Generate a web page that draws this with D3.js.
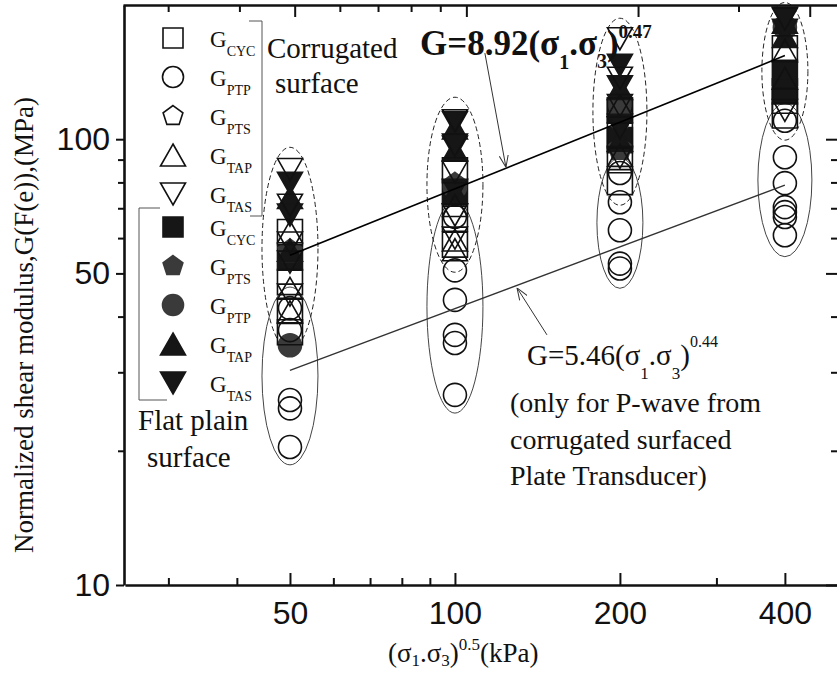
<!DOCTYPE html>
<html>
<head>
<meta charset="utf-8">
<script src="https://cdn.jsdelivr.net/npm/d3@7"></script>
<style>
  body { margin: 0; background: #fff; }
  svg { display: block; }
  .serif { font-family: "Liberation Serif", "Times New Roman", serif; fill: #111; }
  .tick text { font-family: "Liberation Sans", Arial, sans-serif; font-size: 32px; fill: #111; }
</style>
</head>
<body>
<svg id="chart" width="837" height="676"></svg>
<script>
// ---------- data ----------
const levels = [50, 100, 200, 400];          // (σ1.σ3)^0.5, kPa
const xMinor = [30, 40, 60, 70, 80, 90, 300];
const yMajor = [10, 50, 100];
const yMinor = [20, 30, 40, 60, 70, 80, 90];

// Corrugated-surface transducers (open symbols), one list per level
const corrCYC = [[61.9, 47.8, 41.2, 36.9], [85.2, 66.3, 58.0], [116, 102, 89.7, 80.1], [160, 122, 113]];
const corrPTP = [[41.8, 37.3, 26.0, 24.9, 20.4], [67, 50.8, 43.6, 36.4, 34.9, 26.7], [84, 72.2, 62.5, 52.6, 51.3], [110, 91.1, 79.7, 70.4, 68.6, 66.9, 60.9]];
const corrPTS = [[], [], [], []];
const corrTAP = [[62, 46.3, 41], [71, 59.4, 56.5], [119, 92], [158, 137]];
const corrTAS = [[85.5, 71.1, 58.5, 53, 44.7], [110, 97, 84.4, 67.6, 60], [168, 137, 119, 106, 91], [186, 116]];

// Flat plain-surface transducers (filled symbols)
const flatCYC = [[54.2], [76], [116, 99.5], [141, 128]];
const flatPTS = [[56], [79], [112, 95], [180]];
const flatPTP = [[34.5], [78], [120], [178]];
const flatTAP = [[74, 56.4], [106, 94.5, 76], [130, 99.5], [183, 170]];
const flatTAS = [[79.6, 67.6], [109, 96, 76.8], [146.5, 131, 107.5], [187, 175.6]];

// Grouping ellipses: [upper G, lower G] at each level
const dashedEllipse = [[95.9, 33.7], [124.2, 50.3], [186.8, 71.1], [202.6, 99.5]];
const solidEllipse  = [[46.6, 18.6], [73.0, 24.3], [91.1, 46.3], [120.4, 54.5]];

// Fitted trends (end points) and pointer arrows [tail, head]
const fitAll = [[50, 54.9], [400, 154]];
const fitPTP = [[50, 30.3], [400, 78.9]];
const arrowAll = [[113.4, 156], [123.9, 86.5]];
const arrowPTP = [[147.2, 36.4], [129.8, 46.4]];

// ---------- layout ----------
const svg = d3.select("#chart");
const x = d3.scaleLog().domain([25, 500]).range([125, 838]);
const xTop = d3.scaleLog().domain([25, 500]).range([123, 865]);
const y = d3.scaleLog().domain([10, 200]).range([585, 5]);

const INK = "#111";

// symbol outlines centred on (0,0)
function shape(kind, s) {
  const h = s / 2;
  if (kind === "square") return `M${-h},${-h}H${h}V${h}H${-h}Z`;
  if (kind === "circle") return `M${h},0A${h},${h} 0 1 1 ${-h},0A${h},${h} 0 1 1 ${h},0Z`;
  if (kind === "up")   { const t = s * 0.44; return `M0,${-t}L${h},${t}L${-h},${t}Z`; }
  if (kind === "down") { const t = s * 0.44; return `M0,${t}L${h},${-t}L${-h},${-t}Z`; }
  if (kind === "pentagon") {
    const r = s * 0.52;
    return d3.range(5).map((i, k) => {
      const a = -Math.PI / 2 + i * 2 * Math.PI / 5;
      return (k ? "L" : "M") + (r * Math.cos(a)).toFixed(2) + "," + (r * Math.sin(a)).toFixed(2);
    }).join("") + "Z";
  }
}

const series = [
  { sub: "CYC", kind: "square",   filled: true,  tone: "#161616", vals: flatCYC, group: "flat" },
  { sub: "PTS", kind: "pentagon", filled: true,  tone: "#3a3a3a", vals: flatPTS, group: "flat" },
  { sub: "PTP", kind: "circle",   filled: true,  tone: "#3a3a3a", vals: flatPTP, group: "flat" },
  { sub: "TAP", kind: "up",       filled: true,  tone: "#161616", vals: flatTAP, group: "flat" },
  { sub: "TAS", kind: "down",     filled: true,  tone: "#161616", vals: flatTAS, group: "flat" },
  { sub: "CYC", kind: "square",   filled: false, tone: INK, vals: corrCYC, group: "corr" },
  { sub: "PTP", kind: "circle",   filled: false, tone: INK, vals: corrPTP, group: "corr" },
  { sub: "PTS", kind: "pentagon", filled: false, tone: INK, vals: corrPTS, group: "corr" },
  { sub: "TAP", kind: "up",       filled: false, tone: INK, vals: corrTAP, group: "corr" },
  { sub: "TAS", kind: "down",     filled: false, tone: INK, vals: corrTAS, group: "corr" }
];
const plotSize = { square: 25, circle: 23, pentagon: 24, up: 25, down: 25 };
const legendSize = { square: 20, circle: 21, pentagon: 20, up: 25, down: 25 };

// ---------- ellipses ----------
const dashedRx = [28, 28, 27, 23];
const solidRx = [28, 28, 23, 27];
function drawEllipses(spec, rx, dash, colour) {
  svg.append("g").selectAll("ellipse").data(spec).join("ellipse")
    .attr("cx", (d, i) => x(levels[i]))
    .attr("cy", d => (y(d[0]) + y(d[1])) / 2)
    .attr("rx", (d, i) => rx[i])
    .attr("ry", d => (y(d[1]) - y(d[0])) / 2)
    .attr("fill", "none")
    .attr("stroke", colour)
    .attr("stroke-width", 1)
    .attr("stroke-dasharray", dash);
}
drawEllipses(solidEllipse, solidRx, null, "#444");
drawEllipses(dashedEllipse, dashedRx, "5,3", "#222");

// ---------- data symbols ----------
series.forEach(s => {
  const pts = s.vals.flatMap((list, i) => list.map(v => ({ x: levels[i], y: v })));
  svg.append("g").selectAll("path").data(pts).join("path")
    .attr("d", shape(s.kind, plotSize[s.kind]))
    .attr("transform", d => `translate(${x(d.x)},${y(d.y)})`)
    .attr("fill", s.filled ? s.tone : "none")
    .attr("stroke", s.tone)
    .attr("stroke-width", 1.6);
});

// ---------- trend lines and arrows ----------
const line = d3.line().x(d => x(d[0])).y(d => y(d[1]));
svg.append("path").attr("d", line(fitAll)).attr("stroke", "#000").attr("stroke-width", 1.6).attr("fill", "none");
svg.append("path").attr("d", line(fitPTP)).attr("stroke", "#333").attr("stroke-width", 1.4).attr("fill", "none");

svg.append("defs").append("marker")
  .attr("id", "head").attr("viewBox", "0 0 12 10").attr("refX", 12).attr("refY", 5)
  .attr("markerWidth", 12).attr("markerHeight", 10).attr("markerUnits", "userSpaceOnUse")
  .attr("orient", "auto")
  .append("path").attr("d", "M0,0.5L12,5L0,9.5").attr("fill", "none").attr("stroke", "#333").attr("stroke-width", 1);
[arrowAll, arrowPTP].forEach(a => {
  svg.append("path").attr("d", line(a)).attr("stroke", "#333").attr("stroke-width", 1)
    .attr("fill", "none").attr("marker-end", "url(#head)");
});

// ---------- axes ----------
function styleAxis(g) {
  g.select(".domain").attr("stroke", INK).attr("stroke-width", 2.6);
  g.selectAll(".tick line").attr("stroke", INK).attr("stroke-width", 2);
}
const fmt = d3.format("d");
// bottom
svg.append("g").attr("transform", "translate(0,585)")
  .call(d3.axisBottom(x).tickValues(levels).tickFormat(fmt).tickSize(-12).tickSizeOuter(0).tickPadding(16))
  .call(styleAxis);
svg.append("g").attr("transform", "translate(0,585)")
  .call(d3.axisBottom(x).tickValues(xMinor).tickFormat("").tickSize(-7).tickSizeOuter(0))
  .call(g => g.select(".domain").remove())
  .call(styleAxis);
// top
svg.append("g").attr("transform", "translate(0,5)")
  .call(d3.axisTop(xTop).tickValues(levels).tickFormat("").tickSize(-12).tickSizeOuter(0))
  .call(styleAxis);
svg.append("g").attr("transform", "translate(0,5)")
  .call(d3.axisTop(xTop).tickValues(xMinor).tickFormat("").tickSize(-7).tickSizeOuter(0))
  .call(g => g.select(".domain").remove())
  .call(styleAxis);
// left: ticks point outward
svg.append("g").attr("transform", "translate(124,0)")
  .call(d3.axisLeft(y).tickValues(yMajor).tickFormat(fmt).tickSize(8).tickSizeOuter(0).tickPadding(6))
  .call(styleAxis);
svg.append("g").attr("transform", "translate(124,0)")
  .call(d3.axisLeft(y).tickValues(yMinor).tickFormat("").tickSize(6).tickSizeOuter(0))
  .call(g => g.select(".domain").remove())
  .call(styleAxis);
// right
svg.append("g").attr("transform", "translate(838,0)")
  .call(d3.axisRight(y).tickValues(yMajor).tickFormat("").tickSize(-12).tickSizeOuter(0))
  .call(styleAxis);
svg.append("g").attr("transform", "translate(838,0)")
  .call(d3.axisRight(y).tickValues(yMinor).tickFormat("").tickSize(-7).tickSizeOuter(0))
  .call(g => g.select(".domain").remove())
  .call(styleAxis);

// ---------- axis titles ----------
const xt = svg.append("text").attr("class", "serif").attr("x", 388).attr("y", 662).style("font-size", "27px");
xt.append("tspan").text("(σ");
xt.append("tspan").text("1").style("font-size", "17px").attr("dy", 4);
xt.append("tspan").text(".σ").attr("dy", -4);
xt.append("tspan").text("3").style("font-size", "17px").attr("dy", 4);
xt.append("tspan").text(")").attr("dy", -4);
xt.append("tspan").text("0.5").style("font-size", "17px").attr("dy", -12);
xt.append("tspan").text("(kPa)").attr("dy", 12);

svg.append("text").attr("class", "serif")
  .attr("transform", "translate(33,325) rotate(-90)")
  .attr("text-anchor", "middle").style("font-size", "27px")
  .text("Normalized shear modulus,G(F(e)),(MPa)");

// ---------- legend ----------
const corrRows = series.filter(s => s.group === "corr");
const flatRows = series.filter(s => s.group === "flat");
function legendRow(s, cy) {
  svg.append("path").attr("d", shape(s.kind, legendSize[s.kind]))
    .attr("transform", `translate(173,${cy})`)
    .attr("fill", s.filled ? s.tone : "none").attr("stroke", s.tone).attr("stroke-width", 1.6);
  const t = svg.append("text").attr("class", "serif").attr("x", 210).attr("y", cy + 9).style("font-size", "23px");
  t.append("tspan").text("G");
  t.append("tspan").text(s.sub).style("font-size", "14px").attr("dy", 9);
}
// corrugated block, then flat block in its own order
const corrOrder = ["CYC", "PTP", "PTS", "TAP", "TAS"];
corrOrder.forEach((k, i) => legendRow(corrRows.find(s => s.sub === k), 38 + i * 39));
const flatOrder = ["CYC", "PTS", "PTP", "TAP", "TAS"];
flatOrder.forEach((k, i) => legendRow(flatRows.find(s => s.sub === k), 227 + i * 39));

// brackets tying each block to its caption
svg.append("path").attr("d", "M249,21H262V216H250").attr("fill", "none").attr("stroke", "#555").attr("stroke-width", 1);
svg.append("path").attr("d", "M160,208H139V400H167").attr("fill", "none").attr("stroke", "#555").attr("stroke-width", 1);

function caption(lines, x0, y0, size, gap, xs) {
  lines.forEach((s, i) => svg.append("text").attr("class", "serif")
    .attr("x", xs ? xs[i] : x0).attr("y", y0 + i * gap).style("font-size", size + "px").text(s));
}
caption(["Corrugated", "surface"], 0, 58, 29, 35, [267, 275]);
caption(["Flat plain", "surface"], 0, 430, 29, 37, [138, 147]);
caption(["(only for P-wave from", "corrugated surfaced", "Plate Transducer)"], 510, 412, 28, 36.5);

// ---------- equations ----------
const e1 = svg.append("text").attr("class", "serif").attr("x", 420).attr("y", 55)
  .style("font-size", "35px").style("font-weight", "bold");
e1.append("tspan").text("G=8.92(σ");
e1.append("tspan").text("1").style("font-size", "20px").attr("dy", 14);
e1.append("tspan").text(".σ").attr("dy", -14);
e1.append("tspan").text("3").style("font-size", "20px").attr("dy", 13);
e1.append("tspan").text(")").attr("dy", -13);
e1.append("tspan").text("0.47").style("font-size", "19px").attr("dy", -17);

const e2 = svg.append("text").attr("class", "serif").attr("x", 527).attr("y", 365).style("font-size", "29px");
e2.append("tspan").text("G=5.46(σ");
e2.append("tspan").text("1").style("font-size", "17px").attr("dy", 14);
e2.append("tspan").text(".σ").attr("dy", -14);
e2.append("tspan").text("3").style("font-size", "17px").attr("dy", 14);
e2.append("tspan").text(")").attr("dy", -14);
e2.append("tspan").text("0.44").style("font-size", "16px").attr("dy", -18);
</script>
</body>
</html>
